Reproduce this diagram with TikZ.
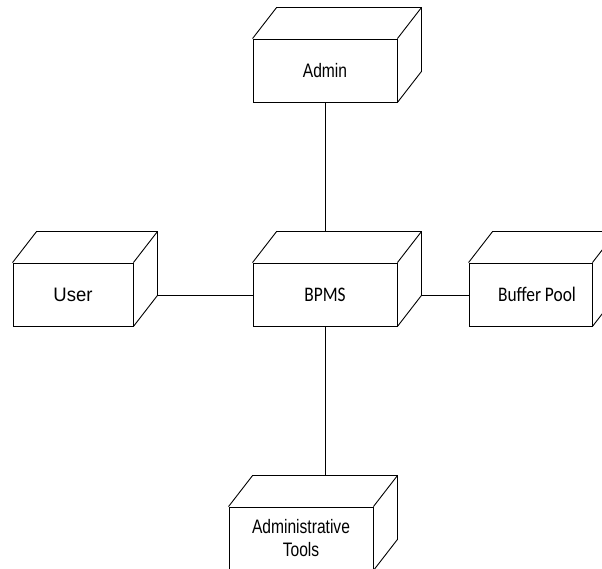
\documentclass[tikz,border=0pt]{standalone}
\usepackage{fontspec}
\setmainfont{Liberation Sans}
\newfontfamily\arialx[FakeStretch=0.8]{Liberation Sans}
\newfontfamily\arialw[FakeStretch=0.95]{Liberation Sans}
\newfontfamily\calibrix[FakeStretch=0.84]{Carlito}
\begin{document}
\begin{tikzpicture}[x=1pt,y=1pt,line width=0.9pt,
    box/.style={draw,minimum height=63pt,inner sep=0pt,align=center,
      font=\arialx\fontsize{19.5}{23}\selectfont},
    boxc/.style={box,font=\calibrix\fontsize{20.7}{20}\selectfont}]
  \useasboundingbox (0,0) rectangle (602,569);
  \clip (0,0) rectangle (602,569);
  % front faces
  \node[box,minimum width=144pt] (admin) at (325,498.5) {Admin};
  \node[box,minimum width=120pt,font=\arialw\fontsize{19.5}{23}\selectfont]
    (user) at (73,274.5) {User};
  \node[boxc,minimum width=144pt] (bpms) at (325,274.5) {BPMS};
  \node[boxc,minimum width=123pt] (buffer) at (530.5,274.5) {\hspace*{13pt}Buffer Pool};
  \node[box,minimum width=144pt] (tools) at (301,30.5) {Administrative\\Tools};
  % top and side faces
  \foreach \n in {admin,user,bpms,buffer,tools} {
    \draw (\n.north west) -- ++(24,31) -- ([shift={(24,31)}]\n.north east)
      -- ([shift={(24,31)}]\n.south east) -- (\n.south east);
    \draw (\n.north east) -- ++(24,31);
    \coordinate (\n-back) at ([shift={(24,31)}]\n.north);
    \coordinate (\n-side) at ([shift={(24,31)}]\n.south east);
  }
  % links
  \draw (admin.south) -- (admin.south |- bpms-back);
  \draw (user-side) -- (user-side -| bpms.west);
  \draw (bpms-side) -- (bpms-side -| buffer.west);
  \draw (bpms.south) -- (tools-back);
\end{tikzpicture}
\end{document}
